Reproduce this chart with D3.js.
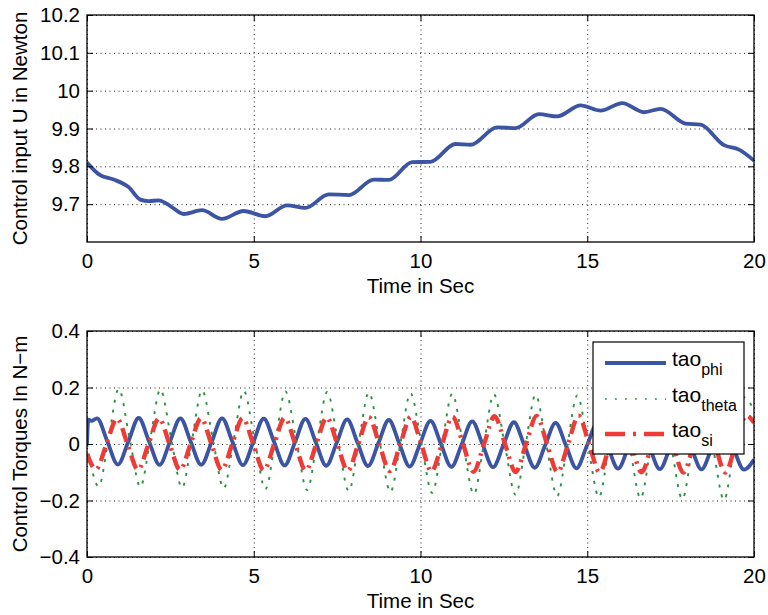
<!DOCTYPE html>
<html>
<head>
<meta charset="utf-8">
<script src="https://cdn.jsdelivr.net/npm/d3@7"></script>
<style>
body { margin: 0; background: #fff; }
text { font-family: "Liberation Sans", Arial, Helvetica, sans-serif; }
</style>
</head>
<body>
<div class="container"></div>
<script>
// tick values
const timeTicks = [0, 5, 10, 15, 20];
const uTicks = [9.7, 9.8, 9.9, 10, 10.1, 10.2];
const torqueTicks = [-0.4, -0.2, 0, 0.2, 0.4];

// [time, value]
const controlU = [
  [0, 9.81], [0.37, 9.778], [0.8, 9.765], [1.25, 9.745], [1.6, 9.712], [1.85, 9.708],
  [2.15, 9.71], [2.5, 9.695], [2.9, 9.674], [3.45, 9.684], [4.05, 9.661], [4.7, 9.682],
  [5.35, 9.668], [6.0, 9.697], [6.55, 9.69], [7.25, 9.726], [7.85, 9.724], [8.6, 9.765],
  [9.05, 9.764], [9.75, 9.811], [10.3, 9.812], [11.05, 9.859], [11.5, 9.857], [12.3, 9.903],
  [12.85, 9.901], [13.55, 9.938], [14.1, 9.932], [14.8, 9.961], [15.4, 9.947], [16.05, 9.967],
  [16.7, 9.943], [17.2, 9.952], [17.95, 9.913], [18.4, 9.91], [19.1, 9.856], [19.55, 9.844],
  [20, 9.815]
];

const tauPhi = [
  [0, 0], [0.04, 0.086], [0.13, 0.082], [0.3, 0.091],
  [0.61, 0.009], [0.925, -0.073], [1.24, 0.009], [1.55, 0.092],
  [1.86, 0.009], [2.175, -0.074], [2.49, 0.009], [2.8, 0.091],
  [3.11, 0.008], [3.425, -0.074], [3.74, 0.008], [4.05, 0.091],
  [4.36, 0.008], [4.675, -0.075], [4.99, 0.008], [5.3, 0.09],
  [5.61, 0.007], [5.925, -0.076], [6.24, 0.007], [6.55, 0.089],
  [6.86, 0.006], [7.175, -0.077], [7.49, 0.005], [7.8, 0.087],
  [8.11, 0.005], [8.425, -0.078], [8.74, 0.004], [9.05, 0.085],
  [9.36, 0.003], [9.675, -0.08], [9.99, 0.002], [10.3, 0.082],
  [10.61, 0.001], [10.925, -0.081], [11.24, 0], [11.55, 0.08],
  [11.86, -0.001], [12.175, -0.082], [12.49, -0.002], [12.8, 0.077],
  [13.11, -0.003], [13.425, -0.084], [13.74, -0.004], [14.05, 0.075],
  [14.36, -0.005], [14.675, -0.086], [14.99, -0.006], [15.3, 0.073],
  [15.61, -0.007], [15.925, -0.087], [16.24, -0.008], [16.55, 0.071],
  [16.86, -0.009], [17.175, -0.089], [17.49, -0.01], [17.8, 0.07],
  [18.11, -0.01], [18.425, -0.09], [18.74, -0.011], [19.05, 0.068],
  [19.37, -0.011], [19.7, -0.091], [20, -0.055]
];

const tauTheta = [
  [0, 0],
  [0.35, -0.15], [0.65, 0.022], [0.95, 0.195], [1.275, 0.021],
  [1.6, -0.152], [1.9, 0.02], [2.2, 0.193], [2.525, 0.018],
  [2.85, -0.155], [3.15, 0.017], [3.45, 0.19], [3.775, 0.016],
  [4.1, -0.157], [4.4, 0.015], [4.7, 0.188], [5.025, 0.014],
  [5.35, -0.16], [5.65, 0.013], [5.95, 0.186], [6.275, 0.012],
  [6.6, -0.163], [6.9, 0.01], [7.2, 0.184], [7.525, 0.009],
  [7.85, -0.166], [8.15, 0.008], [8.45, 0.182], [8.775, 0.007],
  [9.1, -0.17], [9.4, 0.005], [9.7, 0.18], [10.025, 0.004],
  [10.35, -0.173], [10.65, 0.002], [10.95, 0.178], [11.275, 0.001],
  [11.6, -0.177], [11.9, 0], [12.2, 0.176], [12.525, -0.001],
  [12.85, -0.18], [13.15, -0.003], [13.45, 0.174], [13.775, -0.004],
  [14.1, -0.184], [14.4, -0.006], [14.7, 0.172], [15.025, -0.007],
  [15.35, -0.188], [15.65, -0.009], [15.95, 0.17], [16.275, -0.01],
  [16.6, -0.192], [16.9, -0.012], [17.2, 0.168], [17.525, -0.013],
  [17.85, -0.195], [18.15, -0.014], [18.45, 0.166], [18.775, -0.015],
  [19.1, -0.198], [19.4, -0.016], [19.7, 0.165], [20, 0.12]
];

const tauSi = [
  [0, -0.035], [0.27, -0.09], [0.585, 0], [0.9, 0.09], [1.215, 0],
  [1.53, -0.091], [1.845, 0], [2.16, 0.091], [2.475, 0],
  [2.79, -0.092], [3.105, 0], [3.42, 0.092], [3.73, 0],
  [4.04, -0.092], [4.355, 0], [4.67, 0.092], [4.985, 0],
  [5.3, -0.093], [5.615, 0], [5.93, 0.093], [6.245, 0],
  [6.56, -0.094], [6.875, 0], [7.19, 0.094], [7.505, 0],
  [7.82, -0.095], [8.135, 0], [8.45, 0.095], [8.765, 0],
  [9.08, -0.096], [9.395, 0], [9.71, 0.096], [10.02, 0],
  [10.33, -0.097], [10.645, 0], [10.96, 0.097], [11.275, 0],
  [11.59, -0.098], [11.905, 0], [12.22, 0.098], [12.535, 0],
  [12.85, -0.099], [13.165, 0], [13.48, 0.099], [13.795, 0],
  [14.11, -0.1], [14.425, 0], [14.74, 0.1], [15.055, 0],
  [15.37, -0.1], [15.685, 0], [16.0, 0.1], [16.315, 0],
  [16.63, -0.1], [16.94, 0], [17.25, 0.1], [17.565, 0],
  [17.88, -0.101], [18.195, 0], [18.51, 0.101], [18.825, 0],
  [19.14, -0.101], [19.455, 0], [19.77, 0.101], [20, 0.075]
];

const legendNames = ["phi", "theta", "si"];

const width = 768, height = 615;
const left = 87, right = 754;
const fontSize = 20.5;

const svg = d3.select(".container")
  .append("svg")
    .attr("width", width)
    .attr("height", height);

svg.append("rect").attr("width", width).attr("height", height).attr("fill", "#fff");

const fmt = (d) => d < 0 ? "\u2212" + Math.abs(d) : String(d);

function panel(top, bottom, domain, yTicks, ylabel, id) {
  const x = d3.scaleLinear().domain([0, 20]).range([left, right]);
  const y = d3.scaleLinear().domain(domain).range([bottom, top]);
  const g = svg.append("g");

  // dotted grid
  g.append("g")
    .attr("transform", `translate(0,${bottom})`)
    .call(d3.axisBottom(x).tickValues(timeTicks).tickSize(-(bottom - top)).tickFormat(""))
    .call((s) => s.select(".domain").remove())
    .selectAll("line")
      .attr("stroke", "#222")
      .attr("stroke-dasharray", "1,3.5");
  g.append("g")
    .attr("transform", `translate(${left},0)`)
    .call(d3.axisLeft(y).tickValues(yTicks).tickSize(-(right - left)).tickFormat(""))
    .call((s) => s.select(".domain").remove())
    .selectAll("line")
      .attr("stroke", "#222")
      .attr("stroke-dasharray", "1,3.5");

  svg.append("clipPath").attr("id", id)
    .append("rect")
      .attr("x", left).attr("y", top)
      .attr("width", right - left).attr("height", bottom - top);

  const plot = g.append("g").attr("clip-path", `url(#${id})`);

  // axes, ticks pointing inward
  const axes = g.append("g").attr("class", "axes");
  axes.append("g")
    .attr("transform", `translate(0,${bottom})`)
    .call(d3.axisBottom(x).tickValues(timeTicks).tickSizeInner(-6).tickSizeOuter(0).tickPadding(11).tickFormat(fmt));
  axes.append("g")
    .attr("transform", `translate(0,${top})`)
    .call(d3.axisTop(x).tickValues(timeTicks).tickSizeInner(-6).tickSizeOuter(0).tickFormat(""));
  axes.append("g")
    .attr("transform", `translate(${left},0)`)
    .call(d3.axisLeft(y).tickValues(yTicks).tickSizeInner(-6).tickSizeOuter(0).tickPadding(7).tickFormat(fmt));
  axes.append("g")
    .attr("transform", `translate(${right},0)`)
    .call(d3.axisRight(y).tickValues(yTicks).tickSizeInner(-6).tickSizeOuter(0).tickFormat(""));
  axes.selectAll(".domain").remove();
  axes.selectAll("line").attr("stroke", "#000");
  axes.selectAll("text")
    .attr("font-size", fontSize)
    .attr("font-family", "'Liberation Sans', Arial, sans-serif")
    .attr("fill", "#000");

  g.append("rect")
    .attr("x", left).attr("y", top)
    .attr("width", right - left).attr("height", bottom - top)
    .attr("fill", "none")
    .attr("stroke", "#000")
    .attr("stroke-width", 1.3);

  g.append("text")
    .attr("x", (left + right) / 2)
    .attr("y", bottom + 51)
    .attr("text-anchor", "middle")
    .attr("font-size", fontSize)
    .text("Time in Sec");

  g.append("text")
    .attr("transform", `translate(27,${(top + bottom) / 2}) rotate(-90)`)
    .attr("text-anchor", "middle")
    .attr("font-size", fontSize)
    .text(ylabel);

  return { x, y, plot };
}

// top panel: thrust
const p1 = panel(15, 242, [9.6, 10.2], uTicks, "Control input U in Newton", "clipTop");
const line1 = d3.line()
  .x((d) => p1.x(d[0]))
  .y((d) => p1.y(d[1]))
  .curve(d3.curveMonotoneX);

p1.plot.append("path")
  .datum(controlU)
  .attr("d", line1)
  .attr("fill", "none")
  .attr("stroke", "#3b54a4")
  .attr("stroke-width", 3.8)
  .attr("stroke-linejoin", "round");

// bottom panel: torques
const p2 = panel(331, 557, [-0.4, 0.4], torqueTicks, "Control Torques In N\u2212m", "clipBottom");
const line2 = d3.line()
  .x((d) => p2.x(d[0]))
  .y((d) => p2.y(d[1]))
  .curve(d3.curveMonotoneX);

const styles = [
  { color: "#3b54a4", width: 3.8, dash: null },
  { color: "#2a9145", width: 1.9, dash: "3,7" },
  { color: "#ef3a36", width: 4.4, dash: "14,6,2.5,6" }
];

[tauPhi, tauTheta, tauSi].forEach((data, i) => {
  p2.plot.append("path")
    .datum(data)
    .attr("d", line2)
    .attr("fill", "none")
    .attr("stroke", styles[i].color)
    .attr("stroke-width", styles[i].width)
    .attr("stroke-dasharray", styles[i].dash);
});

// legend
const legend = svg.append("g").attr("transform", "translate(593,342)");
legend.append("rect")
  .attr("width", 151).attr("height", 112)
  .attr("fill", "#fff")
  .attr("stroke", "#000")
  .attr("stroke-width", 1.2);

const rowY = [21, 57, 92];
const legendDash = [null, "1.8,8.2", "20,8,3,8"];
legendNames.forEach((name, i) => {
  legend.append("line")
    .attr("x1", 12).attr("x2", 73)
    .attr("y1", rowY[i]).attr("y2", rowY[i])
    .attr("stroke", styles[i].color)
    .attr("stroke-width", i === 1 ? 1.6 : styles[i].width)
    .attr("stroke-dasharray", legendDash[i]);
  const t = legend.append("text")
    .attr("x", 79)
    .attr("y", rowY[i] + 3)
    .attr("font-size", 21);
  t.append("tspan").text("tao");
  t.append("tspan")
    .attr("dy", 9)
    .attr("font-size", 16)
    .text(name);
});
</script>
</body>
</html>
